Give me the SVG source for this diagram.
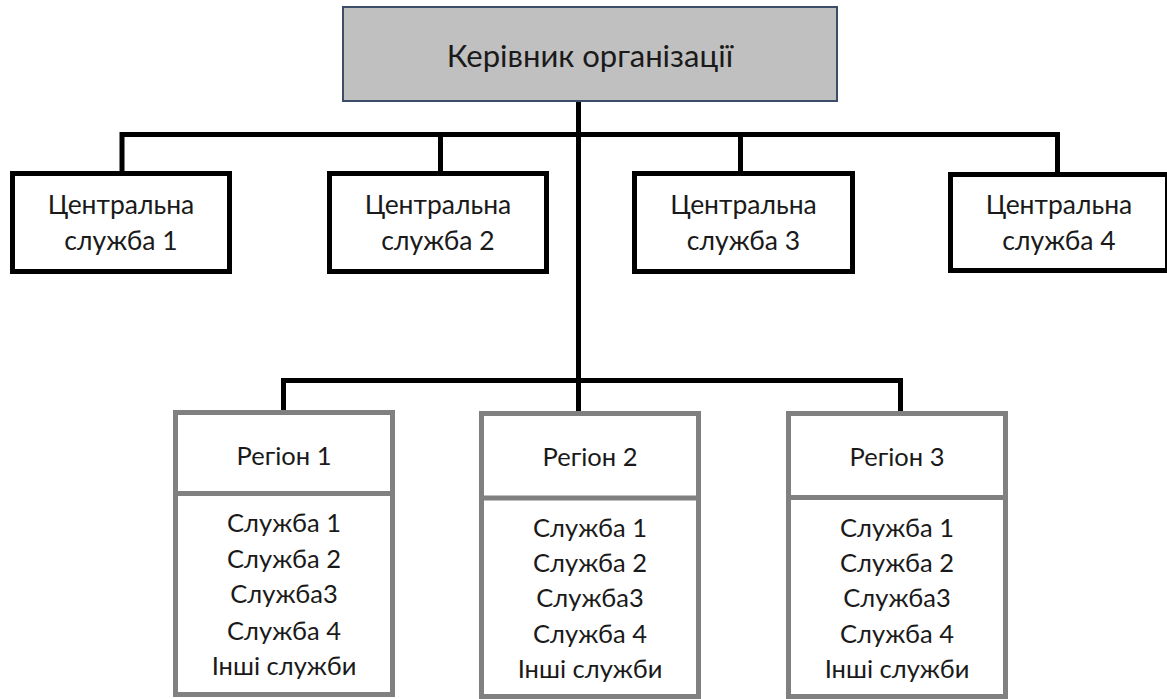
<svg xmlns="http://www.w3.org/2000/svg" width="1167" height="699" viewBox="0 0 1167 699">
  <style>
    text { font-family: Lato, "Open Sans", "Noto Sans", sans-serif; fill: #1a1a1a; text-anchor: middle; }
    .head { font-size: 31px; }
    .central { font-size: 26.5px; }
    .reg { font-size: 25.5px; }
    .central-box { fill: #ffffff; stroke: #000000; stroke-width: 5; }
    .region-box { fill: #ffffff; stroke: #808080; stroke-width: 5; }
    .divider { stroke: #808080; stroke-width: 5; }
    .link { fill: none; stroke: #000000; stroke-width: 5; stroke-linejoin: miter; }
  </style>
  <rect width="1167" height="699" fill="#ffffff"/>

  <!-- connectors -->
  <g id="connectors">
    <path class="link" d="M578.5 102 V413"/>
    <path class="link" d="M122 173 V134.5 H1057.5 V173"/>
    <path class="link" d="M440.5 134.5 V173"/>
    <path class="link" d="M740.5 134.5 V173"/>
    <path class="link" d="M283.5 412 V380.5 H900.5 V413"/>
  </g>

  <!-- head of organisation -->
  <g id="head">
    <rect x="343" y="7" width="494" height="94" fill="#c0c0c0" stroke="#3b4d68" stroke-width="2"/>
    <text class="head" x="590" y="66.5">Керівник організації</text>
  </g>

  <!-- central services -->
  <g id="central-1">
    <rect class="central-box" x="12.5" y="173.5" width="217" height="98"/>
    <text class="central" x="121" y="214">Центральна</text>
    <text class="central" x="121" y="250">служба 1</text>
  </g>
  <g id="central-2">
    <rect class="central-box" x="329.5" y="173.5" width="217" height="98"/>
    <text class="central" x="438" y="214">Центральна</text>
    <text class="central" x="438" y="250">служба 2</text>
  </g>
  <g id="central-3">
    <rect class="central-box" x="634.5" y="173.5" width="218" height="98"/>
    <text class="central" x="743.5" y="214">Центральна</text>
    <text class="central" x="743.5" y="250">служба 3</text>
  </g>
  <g id="central-4">
    <rect class="central-box" x="950.5" y="174.5" width="217" height="96"/>
    <text class="central" x="1059" y="214">Центральна</text>
    <text class="central" x="1059" y="250">служба 4</text>
  </g>

  <!-- regions -->
  <g id="region-1">
    <rect class="region-box" x="175.5" y="412.5" width="217" height="282"/>
    <line class="divider" x1="175.5" y1="493.5" x2="392.5" y2="493.5"/>
    <text class="reg" x="284" y="465">Регіон 1</text>
    <text class="reg" x="284" y="531.5">Служба 1</text>
    <text class="reg" x="284" y="567.5">Служба 2</text>
    <text class="reg" x="284" y="603">Служба3</text>
    <text class="reg" x="284" y="639.5">Служба 4</text>
    <text class="reg" x="284" y="675">Інші служби</text>
  </g>
  <g id="region-2">
    <rect class="region-box" x="481.5" y="413.5" width="217" height="283"/>
    <line class="divider" x1="481.5" y1="498" x2="698.5" y2="498"/>
    <text class="reg" x="590" y="466">Регіон 2</text>
    <text class="reg" x="590" y="536.5">Служба 1</text>
    <text class="reg" x="590" y="572">Служба 2</text>
    <text class="reg" x="590" y="607">Служба3</text>
    <text class="reg" x="590" y="643">Служба 4</text>
    <text class="reg" x="590" y="678">Інші служби</text>
  </g>
  <g id="region-3">
    <rect class="region-box" x="788.5" y="413.5" width="217" height="283"/>
    <line class="divider" x1="788.5" y1="497.5" x2="1005.5" y2="497.5"/>
    <text class="reg" x="897" y="466">Регіон 3</text>
    <text class="reg" x="897" y="536.5">Служба 1</text>
    <text class="reg" x="897" y="572">Служба 2</text>
    <text class="reg" x="897" y="607">Служба3</text>
    <text class="reg" x="897" y="643">Служба 4</text>
    <text class="reg" x="897" y="678">Інші служби</text>
  </g>
</svg>
